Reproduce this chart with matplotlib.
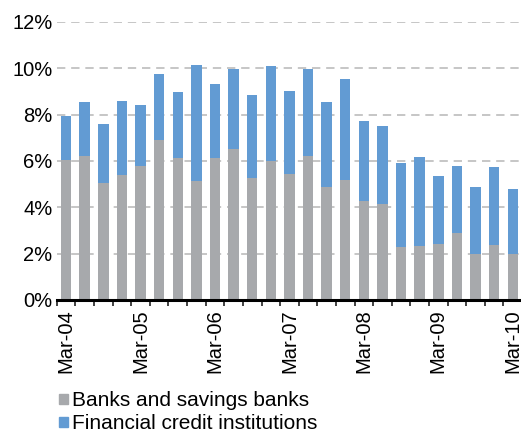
import matplotlib
matplotlib.use("Agg")
import matplotlib.pyplot as plt
import numpy as np
from matplotlib.patches import Patch

plt.rcParams['font.family'] = ['Liberation Sans', 'DejaVu Sans']

# quarterly data, Mar-04 .. Mar-10 (percent)
quarters = ["Mar-04", "Jun-04", "Sep-04", "Dec-04",
            "Mar-05", "Jun-05", "Sep-05", "Dec-05",
            "Mar-06", "Jun-06", "Sep-06", "Dec-06",
            "Mar-07", "Jun-07", "Sep-07", "Dec-07",
            "Mar-08", "Jun-08", "Sep-08", "Dec-08",
            "Mar-09", "Jun-09", "Sep-09", "Dec-09",
            "Mar-10"]
banks = [6.03, 6.22, 5.04, 5.39, 5.78, 6.90, 6.12, 5.13, 6.12, 6.51, 5.26, 5.99,
         5.44, 6.22, 4.87, 5.17, 4.27, 4.14, 2.28, 2.33, 2.41, 2.89, 1.98, 2.37, 1.98]
totals = [7.93, 8.53, 7.59, 8.58, 8.41, 9.74, 8.97, 10.13, 9.31, 9.96, 8.84, 10.09,
          9.01, 9.96, 8.53, 9.53, 7.72, 7.50, 5.91, 6.16, 5.34, 5.78, 4.87, 5.73, 4.78]
fci = [t - b for t, b in zip(totals, banks)]

gray = "#a7a9ac"
blue = "#629bd3"

fig = plt.figure(figsize=(5.21, 4.36), dpi=100)
ax = fig.add_axes([0.109, 0.312, 0.893, 0.638])

x = np.arange(len(quarters))
ax.bar(x, banks, width=0.56, color=gray, zorder=3)
ax.bar(x, fci, width=0.56, bottom=banks, color=blue, zorder=3)

ax.set_xlim(-0.5, len(quarters) - 0.5)
ax.set_ylim(0, 12)
ax.set_yticks(range(0, 13, 2))
ax.set_yticklabels([f"{v}%" for v in range(0, 13, 2)], fontsize=14.5)
ax.tick_params(axis='y', length=0, pad=3)
for v in range(2, 13, 2):
    ax.axhline(v, color="#bcbcbc", lw=1.2, ls=(0, (5, 3.5)), zorder=1)

# labels every 4 quarters, small tick marks at category boundaries
ax.set_xticks(x[::4])
ax.set_xticklabels(quarters[::4], rotation=90, fontsize=14.5)
ax.tick_params(axis='x', which='major', length=0, pad=7)
ax.set_xticks(np.arange(-0.5, len(quarters)), minor=True)
ax.tick_params(axis='x', which='minor', length=4, width=1.3, color="#333333", direction='out')

for s in ['top', 'right', 'left']:
    ax.spines[s].set_visible(False)
ax.spines['bottom'].set_linewidth(2.2)
ax.spines['bottom'].set_color("black")
ax.spines['bottom'].set_zorder(4)

handles = [Patch(color=gray), Patch(color=blue)]
fig.legend(handles, ["Banks and savings banks", "Financial credit institutions"],
           loc='upper left', bbox_to_anchor=(0.113, 0.103), frameon=False,
           fontsize=15, handlelength=0.42, handleheight=0.35, handletextpad=0.22,
           labelspacing=0.2, borderaxespad=0, borderpad=0)

fig.savefig("out.png", dpi=100)
